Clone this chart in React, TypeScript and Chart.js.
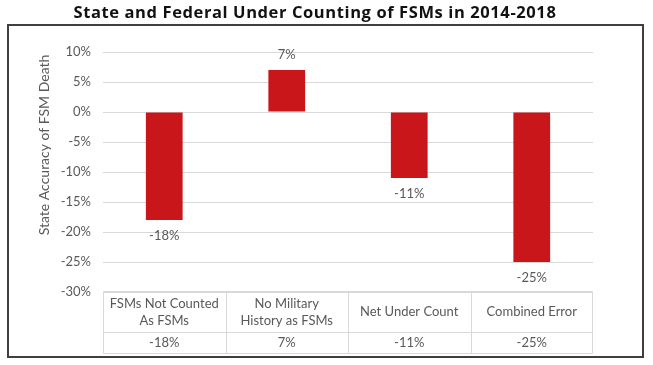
import React, { useEffect, useRef } from "react";
import { Chart, registerables } from "chart.js";

Chart.register(...registerables);

const TITLE = "State and Federal Under Counting of FSMs in 2014-2018";
const Y_TITLE = "State Accuracy of FSM Death";
const categories: string[][] = [
  ["FSMs Not Counted", "As FSMs"],
  ["No Military", "History as FSMs"],
  ["Net Under Count"],
  ["Combined Error"],
];
const values: number[] = [-18, 7, -11, -25];
const valueLabels: string[] = ["-18%", "7%", "-11%", "-25%"];
const yMin = -30;
const yMax = 10;
const yStep = 5;

const FONT = "Lato, 'Open Sans', sans-serif";
const TEXT = "#595959";
const GRID = "#d9d9d9";
const BAR = "#c8161a";

const overlayPlugin = {
  id: "overlay",
  afterDatasetsDraw(chart: any) {
    const { ctx, chartArea, scales } = chart;
    const x = scales.x;
    const y = scales.y;
    ctx.save();
    // data labels
    ctx.font = `13px ${FONT}`;
    ctx.fillStyle = TEXT;
    ctx.textAlign = "center";
    ctx.textBaseline = "middle";
    values.forEach((v, i) => {
      const px = x.getPixelForValue(i);
      const py = y.getPixelForValue(v);
      ctx.fillText(valueLabels[i], px, v >= 0 ? py - 15 : py + 16);
    });
    // y axis title
    ctx.save();
    ctx.translate(chartArea.left - 59, chartArea.top + 93);
    ctx.rotate(-Math.PI / 2);
    ctx.font = `14px ${FONT}`;
    ctx.fillText(Y_TITLE, 0, 0);
    ctx.restore();
    // data table
    const top = Math.round(chartArea.bottom) - 0.5;
    const mid = top + 41;
    const bot = top + 62;
    const left = Math.round(chartArea.left) + 0.5;
    const right = Math.round(chartArea.right) - 0.5;
    ctx.strokeStyle = GRID;
    ctx.lineWidth = 1;
    ctx.beginPath();
    ctx.moveTo(left, top);
    ctx.lineTo(right, top);
    ctx.moveTo(left, mid);
    ctx.lineTo(right, mid);
    ctx.moveTo(left, bot);
    ctx.lineTo(right, bot);
    const n = categories.length;
    for (let i = 0; i <= n; i++) {
      let bx: number;
      if (i === 0) bx = left;
      else if (i === n) bx = right;
      else bx = Math.round((x.getPixelForValue(i - 1) + x.getPixelForValue(i)) / 2) + 0.5;
      ctx.moveTo(bx, top);
      ctx.lineTo(bx, bot);
    }
    ctx.stroke();
    ctx.font = `13px ${FONT}`;
    ctx.fillStyle = TEXT;
    categories.forEach((lines, i) => {
      const px = x.getPixelForValue(i);
      const lh = 17;
      const cy = (top + mid) / 2;
      const start = cy - ((lines.length - 1) * lh) / 2;
      lines.forEach((ln, j) => ctx.fillText(ln, px, start + j * lh));
      ctx.fillText(valueLabels[i], px, (mid + bot) / 2);
    });
    ctx.restore();
  },
};

export default function App() {
  const ref = useRef<HTMLCanvasElement | null>(null);
  useEffect(() => {
    if (!ref.current) return;
    const chart = new Chart(ref.current, {
      type: "bar",
      data: {
        labels: categories.map((c) => c.join(" ")),
        datasets: [
          {
            data: values,
            backgroundColor: BAR,
            borderWidth: 0,
            categoryPercentage: 1,
            barPercentage: 0.3,
          },
        ],
      },
      options: {
        animation: false,
        responsive: false,
        maintainAspectRatio: false,
        layout: { padding: { left: 0, top: 52, right: 60, bottom: 73 } },
        plugins: {
          legend: { display: false },
          tooltip: { enabled: false },
          title: { display: false },
        },
        scales: {
          x: { display: false, offset: true },
          y: {
            min: yMin,
            max: yMax,
            afterFit: (s: any) => {
              s.width = 103;
            },
            ticks: {
              stepSize: yStep,
              padding: 12,
              color: TEXT,
              font: { family: FONT, size: 13 },
              callback: (v: any) => `${v}%`,
            },
            grid: { color: GRID, drawTicks: false },
            border: { display: false },
          },
        },
      },
      plugins: [overlayPlugin],
    });
    return () => chart.destroy();
  }, []);

  return (
    <div style={{ position: "absolute", left: 0, top: 0, width: 653, height: 365, background: "#fff" }}>
      <canvas ref={ref} width={653} height={365} style={{ position: "absolute", left: 0, top: 0, width: 653, height: 365 }} />
      <div
        style={{
          position: "absolute",
          left: 7,
          top: 24,
          width: 637,
          height: 334,
          boxSizing: "border-box",
          border: "2px solid #3f3f3f",
          pointerEvents: "none",
        }}
      />
      <div
        style={{
          position: "absolute",
          left: 0,
          top: 1,
          width: 630,
          textAlign: "center",
          fontFamily: "'Open Sans', sans-serif",
          fontWeight: 700,
          fontSize: 16.5,
          letterSpacing: 0.6,
          lineHeight: "22px",
          color: "#111",
          whiteSpace: "nowrap",
        }}
      >
        {TITLE}
      </div>
    </div>
  );
}
